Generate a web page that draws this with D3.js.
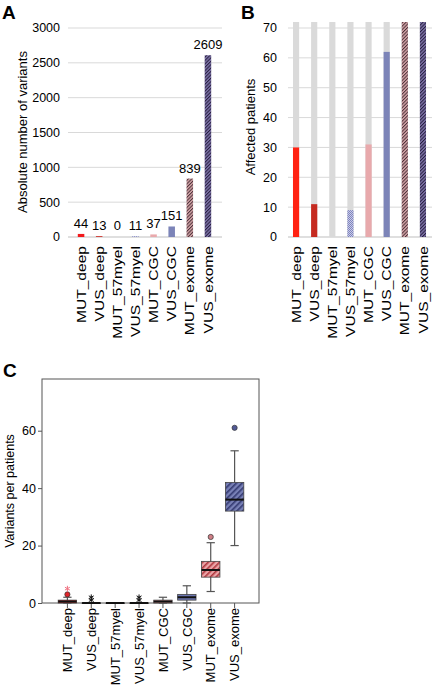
<!DOCTYPE html>
<meta charset="utf-8">
<script src="https://d3js.org/d3.v7.min.js"></script>
<style>
  body { margin: 0; background: #fff; }
  svg { font-family: "Liberation Sans", Arial, sans-serif; }
</style>
<div id="chart"></div>
<script>

// categories shared by all three panels
var categories = ["MUT_deep", "VUS_deep", "MUT_57myel", "VUS_57myel",
                  "MUT_CGC", "VUS_CGC", "MUT_exome", "VUS_exome"];

// panel A: absolute number of variants
var absoluteCounts = [44, 13, 0, 11, 37, 151, 839, 2609];
var ticksA = [0, 500, 1000, 1500, 2000, 2500, 3000];

// panel B: affected patients (out of 72)
var affectedPatients = [30, 11, 0, 9, 31, 62, 72, 72];
var totalPatients = 72;
var ticksB = [0, 10, 20, 30, 40, 50, 60, 70];

// panel C: variants per patient, box plot summary
var whiskerLow  = [0, 0, 0, 0, 0, 0, 4, 20];
var boxQ1       = [0, 0, 0, 0, 0, 1, 9, 32];
var boxMedian   = [0.5, 0, 0, 0, 0.5, 2, 11.5, 36];
var boxQ3       = [1, 0, 0, 0, 1, 3, 14.5, 42];
var whiskerHigh = [2, 0, 0, 0, 2, 6, 21, 53];
var outlierCircles = [[3], [], [], [], [], [], [23], [61]];
var outlierStars   = [[5], [1, 2], [], [1, 2], [], [], [], []];
var ticksC = [0, 20, 40, 60];

var W = 432, H = 685;
var svg = d3.select("#chart").append("svg")
    .attr("width", W)
    .attr("height", H);

// patterns
var defs = svg.append("defs");
function hatch(id, bg, fg, size, w) {
  var p = defs.append("pattern")
      .attr("id", id)
      .attr("patternUnits", "userSpaceOnUse")
      .attr("width", size).attr("height", size)
      .attr("patternTransform", "rotate(-45)");
  p.append("rect").attr("width", size).attr("height", size).attr("fill", bg);
  p.append("rect").attr("width", size).attr("height", w).attr("fill", fg);
}
hatch("hMutEx", "#d6a7aa", "#4a2f38", 2.4, 1);
hatch("hVusEx", "#7f74aa", "#261f3e", 2.4, 1);
hatch("cMutEx", "#eba4a7", "#b0383f", 4, 1.6);
hatch("cVusEx", "#7880b6", "#343a72", 4, 1.6);
var chk = defs.append("pattern")
    .attr("id", "chk")
    .attr("patternUnits", "userSpaceOnUse")
    .attr("width", 2).attr("height", 2);
chk.append("rect").attr("width", 2).attr("height", 2).attr("fill", "#c9cbe6");
chk.append("rect").attr("width", 1).attr("height", 1).attr("fill", "#7d83bf");
chk.append("rect").attr("x", 1).attr("y", 1).attr("width", 1).attr("height", 1).attr("fill", "#7d83bf");

var barColorsA = ["#f2191c", "#cf3a33", "#cf3a33", "url(#chk)", "#e9a9ac",
                  "#7c84b8", "url(#hMutEx)", "url(#hVusEx)"];
var barColorsB = ["#ff2212", "#c52a20", "#c52a20", "url(#chk)", "#e8a9ac",
                  "#7c84b8", "url(#hMutEx)", "url(#hVusEx)"];
var boxColors  = ["#cc2424", "#333333", "#333333", "#333333", "#dc8e90",
                  "#6d77b3", "url(#cMutEx)", "url(#cVusEx)"];
var dotColors  = ["#e0242a", "#222", "#222", "#222", "#dc8e90",
                  "#6d77b3", "#cf7f86", "#525a96"];

function panelLetter(t, x, y) {
  svg.append("text").attr("x", x).attr("y", y)
    .style("font-size", "19px").style("font-weight", "bold").text(t);
}

// rotated category labels, stretched along the text like the original
function catLabels(g, x, y0, stretch) {
  g.selectAll(".cl").data(categories).enter().append("text")
    .attr("transform", function(d) {
      return "translate(" + (x(d) + x.bandwidth() / 2) + "," + y0 + ") rotate(-90) scale(" + stretch + ",1)";
    })
    .attr("dy", "0.36em")
    .attr("text-anchor", "end")
    .style("font-size", "13px")
    .text(function(d) { return d; });
}

// ---------- panel A ----------
var gA = svg.append("g");
var xA = d3.scaleBand().domain(categories).range([72, 217])
    .paddingInner(0.64).paddingOuter(0.32);
var yA = d3.scaleLinear().domain([0, 3000]).range([237, 28]);

gA.selectAll(".grid").data(ticksA).enter().append("line")
  .attr("x1", 68).attr("x2", 222)
  .attr("y1", function(d) { return yA(d); })
  .attr("y2", function(d) { return yA(d); })
  .attr("stroke", function(d) { return d === 0 ? "#bfbfbf" : "#d9d9d9"; })
  .attr("stroke-width", 1);
gA.selectAll(".tk").data(ticksA).enter().append("text")
  .attr("x", 60).attr("y", function(d) { return yA(d); })
  .attr("dy", "0.35em").attr("text-anchor", "end")
  .style("font-size", "12.5px")
  .text(function(d) { return d; });

gA.selectAll(".bar").data(absoluteCounts).enter().append("rect")
  .attr("x", function(d, i) { return xA(categories[i]); })
  .attr("width", xA.bandwidth())
  .attr("y", function(d) { return yA(d); })
  .attr("height", function(d) { return yA(0) - yA(d); })
  .attr("fill", function(d, i) { return barColorsA[i]; });

gA.selectAll(".val").data(absoluteCounts).enter().append("text")
  .attr("x", function(d, i) { return xA(categories[i]) + xA.bandwidth() / 2; })
  .attr("y", function(d) { return Math.min(yA(d) - 6, 230); })
  .attr("text-anchor", "middle")
  .style("font-size", "13px")
  .text(function(d) { return d; });

gA.append("text")
  .attr("transform", "translate(27,132) rotate(-90)")
  .attr("text-anchor", "middle")
  .style("font-size", "13px")
  .text("Absolute number of variants");
catLabels(gA, xA, 246, 1.2);
panelLetter("A", 2, 19);

// ---------- panel B ----------
var gB = svg.append("g");
var xB = d3.scaleBand().domain(categories).range([287, 432])
    .paddingInner(0.66).paddingOuter(0.33);
var yB = d3.scaleLinear().domain([0, 70]).range([237, 28]);

gB.selectAll(".grid").data(ticksB).enter().append("line")
  .attr("x1", 288).attr("x2", 432)
  .attr("y1", function(d) { return yB(d); })
  .attr("y2", function(d) { return yB(d); })
  .attr("stroke", function(d) { return d === 0 ? "#bfbfbf" : "#d9d9d9"; });
gB.selectAll(".tk").data(ticksB).enter().append("text")
  .attr("x", 277).attr("y", function(d) { return yB(d); })
  .attr("dy", "0.35em").attr("text-anchor", "end")
  .style("font-size", "12.5px")
  .text(function(d) { return d; });

gB.selectAll(".bg").data(categories).enter().append("rect")
  .attr("x", function(d) { return xB(d); })
  .attr("width", xB.bandwidth())
  .attr("y", yB(totalPatients))
  .attr("height", yB(0) - yB(totalPatients))
  .attr("fill", "#dadada");
gB.selectAll(".bar").data(affectedPatients).enter().append("rect")
  .attr("x", function(d, i) { return xB(categories[i]); })
  .attr("width", xB.bandwidth())
  .attr("y", function(d) { return yB(d); })
  .attr("height", function(d) { return yB(0) - yB(d); })
  .attr("fill", function(d, i) { return barColorsB[i]; });

gB.append("text")
  .attr("transform", "translate(255,127) rotate(-90)")
  .attr("text-anchor", "middle")
  .style("font-size", "13px")
  .text("Affected patients");
catLabels(gB, xB, 246, 1.2);
panelLetter("B", 241, 19);

// ---------- panel C ----------
var gC = svg.append("g");
var xC = d3.scaleBand().domain(categories).range([52.7, 249.3]).padding(0.23);
var yC = d3.scaleLinear().domain([0, 78]).range([603, 379]);

gC.append("rect")
  .attr("x", 42).attr("y", 379).attr("width", 217).attr("height", 224)
  .attr("fill", "none").attr("stroke", "#555").attr("stroke-width", 1);

gC.append("g")
  .attr("transform", "translate(42,0)")
  .call(d3.axisLeft(yC).tickValues(ticksC).tickSize(4).tickPadding(2))
  .call(function(g) {
    g.select(".domain").remove();
    g.selectAll("line").attr("stroke", "#555");
    g.selectAll("text").style("font-size", "12.5px").attr("fill", "#000");
  });
gC.append("g")
  .attr("transform", "translate(0,603)")
  .call(d3.axisBottom(xC).tickSize(5).tickFormat(""))
  .call(function(g) {
    g.select(".domain").remove();
    g.selectAll("line").attr("stroke", "#555");
  });

var boxes = gC.selectAll(".box").data(categories).enter().append("g");
var cx = function(i) { return xC(categories[i]) + xC.bandwidth() / 2; };
var capW = xC.bandwidth() * 0.45;

// whiskers
boxes.append("line")
  .attr("x1", function(d, i) { return cx(i); })
  .attr("x2", function(d, i) { return cx(i); })
  .attr("y1", function(d, i) { return yC(whiskerLow[i]); })
  .attr("y2", function(d, i) { return yC(whiskerHigh[i]); })
  .attr("stroke", "#555").attr("stroke-width", 1.2);
[whiskerLow, whiskerHigh].forEach(function(arr) {
  boxes.append("line")
    .attr("x1", function(d, i) { return cx(i) - capW / 2; })
    .attr("x2", function(d, i) { return cx(i) + capW / 2; })
    .attr("y1", function(d, i) { return yC(arr[i]); })
    .attr("y2", function(d, i) { return yC(arr[i]); })
    .attr("stroke", "#555").attr("stroke-width", 1.2);
});
boxes.append("rect")
  .attr("x", function(d) { return xC(d); })
  .attr("width", xC.bandwidth())
  .attr("y", function(d, i) { return yC(boxQ3[i]); })
  .attr("height", function(d, i) { return Math.max(yC(boxQ1[i]) - yC(boxQ3[i]), 0.6); })
  .attr("fill", function(d, i) { return boxColors[i]; })
  .attr("stroke", "#444").attr("stroke-width", 0.8);
boxes.append("line")
  .attr("x1", function(d) { return xC(d); })
  .attr("x2", function(d) { return xC(d) + xC.bandwidth(); })
  .attr("y1", function(d, i) { return yC(boxMedian[i]); })
  .attr("y2", function(d, i) { return yC(boxMedian[i]); })
  .attr("stroke", "#111").attr("stroke-width", 2);

// outliers
categories.forEach(function(c, i) {
  outlierCircles[i].forEach(function(v) {
    gC.append("circle")
      .attr("cx", cx(i)).attr("cy", yC(v)).attr("r", 2.6)
      .attr("fill", dotColors[i]).attr("stroke", "#333").attr("stroke-width", 0.7);
  });
  outlierStars[i].forEach(function(v) {
    gC.append("path")
      .attr("transform", "translate(" + cx(i) + "," + yC(v) + ")")
      .attr("d", d3.symbol().type(d3.symbolAsterisk).size(22)())
      .attr("fill", "none")
      .attr("stroke", i === 0 ? "#f07080" : "#111")
      .attr("stroke-width", 1);
  });
});

gC.append("text")
  .attr("transform", "translate(14,491) rotate(-90)")
  .attr("text-anchor", "middle")
  .style("font-size", "12.5px")
  .text("Variants per patients");
catLabels(gC, xC, 608, 1.0);
panelLetter("C", 3, 377);

</script>
